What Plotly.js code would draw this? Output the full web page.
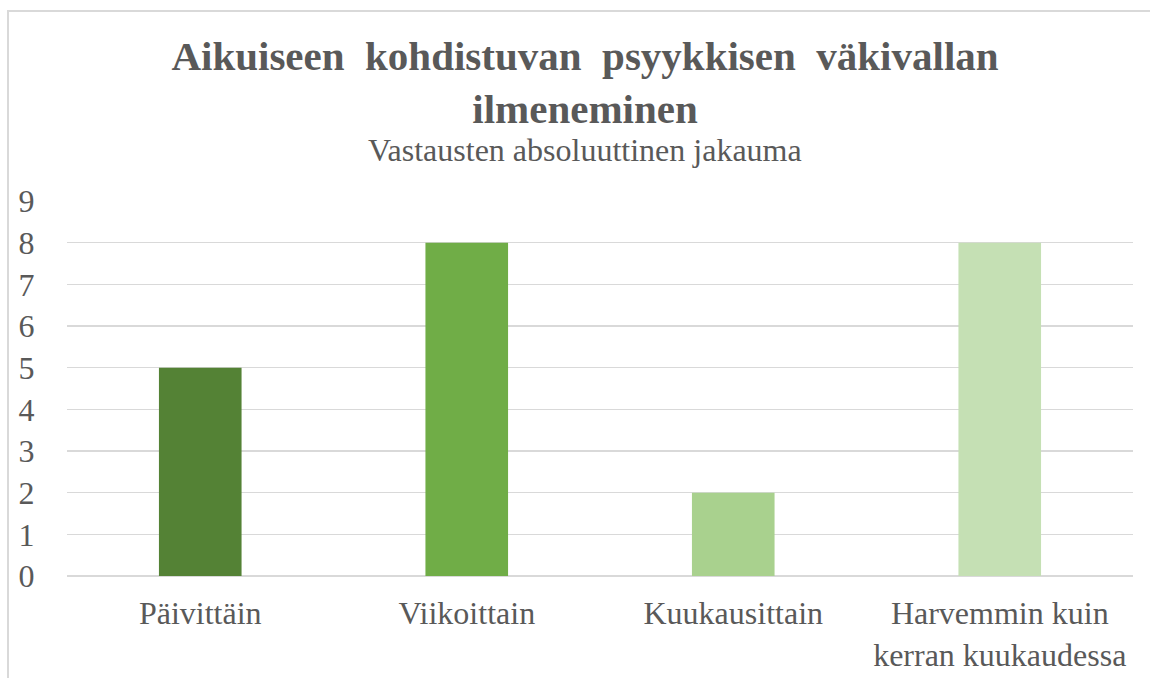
<!DOCTYPE html>
<html>
<head>
<meta charset="utf-8">
<script src="https://cdn.plot.ly/plotly-3.0.1.min.js"></script>
<style>
  html, body { margin: 0; padding: 0; background: #ffffff; }
  #wrap { position: relative; width: 1150px; height: 678px; overflow: hidden; }
  #chart { position: absolute; left: 0; top: 0; width: 1150px; height: 678px; }
  #frame { position: absolute; left: 7px; top: 10px; width: 1200px; height: 700px;
           border-top: 2px solid #d9d9d9; border-left: 2px solid #d9d9d9; pointer-events: none; }
</style>
</head>
<body>
<div id="wrap">
  <div id="chart"></div>
  <div id="frame"></div>
</div>
<script>
const categories = ["Päivittäin", "Viikoittain", "Kuukausittain", "Harvemmin kuin<br>kerran kuukaudessa"];
const values = [5, 8, 2, 8];
const barColors = ["#548235", "#70AD47", "#A9D18E", "#C5E0B4"];
const yTicks = [0, 1, 2, 3, 4, 5, 6, 7, 8, 9];
const titleWords = ["Aikuiseen", "kohdistuvan", "psyykkisen", "väkivallan"];
const titleLine2 = "ilmeneminen";
const subtitle = "Vastausten absoluuttinen jakauma";

const serif = "Times New Roman, Liberation Serif, DejaVu Serif";
const textColor = "#595959";

const trace = {
  type: "bar",
  x: categories,
  y: values,
  marker: { color: barColors, line: { width: 0 } },
  hoverinfo: "x+y"
};

const layout = {
  width: 1150,
  height: 678,
  margin: { l: 67, r: 17, t: 201, b: 102, pad: 0 },
  paper_bgcolor: "#ffffff",
  plot_bgcolor: "#ffffff",
  bargap: 0.69,
  showlegend: false,
  font: { family: serif, color: textColor, size: 32 },
  title: {
    text: "<b>" + titleWords.join("\u00A0 ") + "<br>" + titleLine2 + "</b>",
    font: { family: serif, size: 41, color: textColor },
    x: 585 / 1150, xref: "container", xanchor: "center",
    y: (678 - 70) / 678, yref: "container", yanchor: "middle"
  },
  xaxis: {
    type: "category",
    showgrid: false,
    showline: false,
    zeroline: false,
    ticks: "outside",
    ticklen: 9,
    tickcolor: "rgba(0,0,0,0)",
    tickfont: { family: serif, size: 32, color: textColor },
    fixedrange: true
  },
  yaxis: {
    range: [0, 9],
    tickvals: yTicks,
    ticktext: yTicks.map(String),
    showgrid: true,
    gridcolor: "#d9d9d9",
    gridwidth: 1.5,
    zeroline: true,
    zerolinecolor: "#d9d9d9",
    zerolinewidth: 1.5,
    showline: false,
    ticks: "outside",
    ticklen: 25,
    tickcolor: "rgba(0,0,0,0)",
    tickfont: { family: serif, size: 32, color: textColor },
    fixedrange: true
  },
  annotations: [
    {
      text: subtitle,
      xref: "paper", yref: "paper",
      x: (585 - 67) / 1066, xanchor: "center",
      y: (576 - 150) / 375, yanchor: "middle",
      showarrow: false,
      font: { family: serif, size: 32, color: textColor }
    }
  ]
};

Plotly.newPlot("chart", [trace], layout, { displayModeBar: false, staticPlot: true });
</script>
</body>
</html>
